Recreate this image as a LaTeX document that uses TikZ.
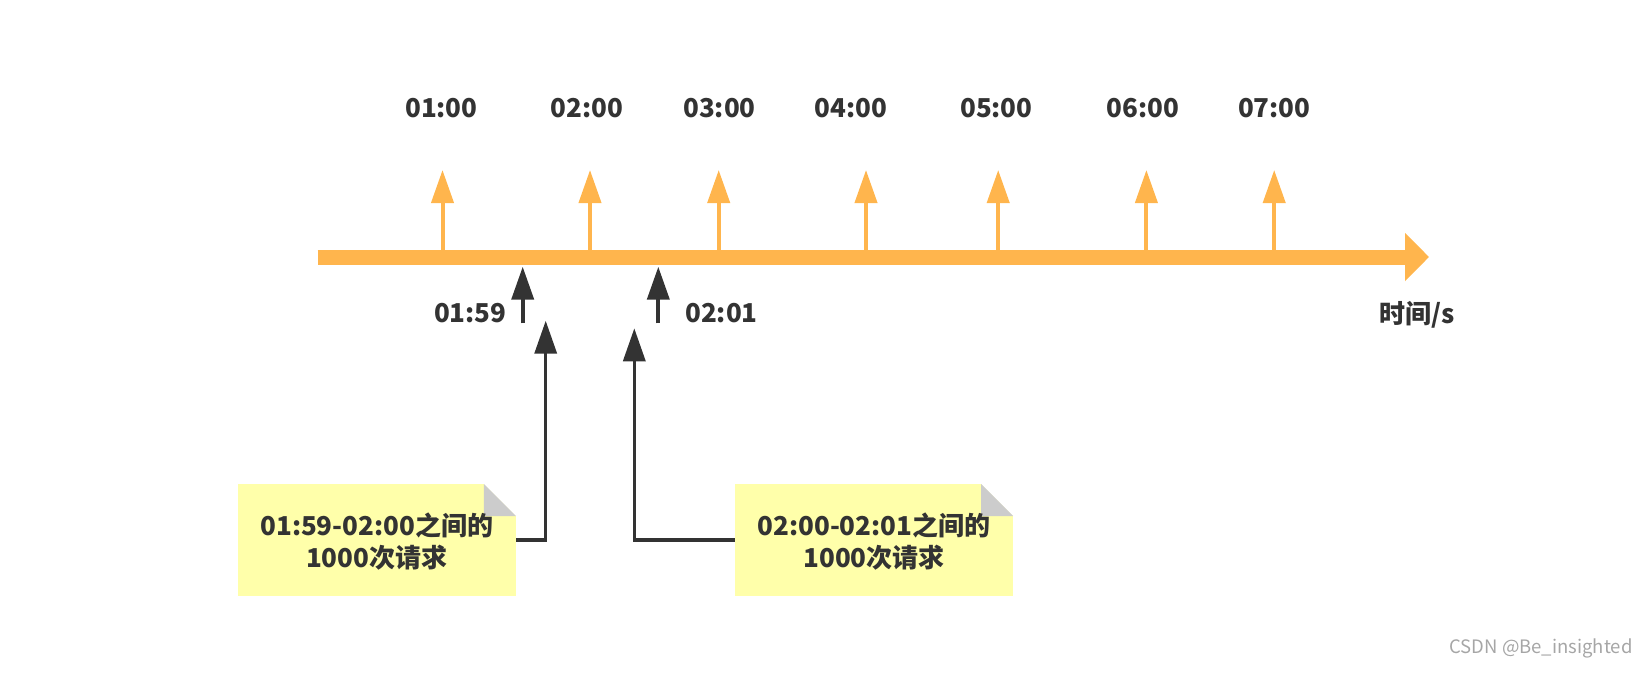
\documentclass[tikz,border=0pt]{standalone}
\usepackage{fontspec}
\setmainfont{Noto Sans CJK SC}
\usetikzlibrary{arrows.meta, positioning}
\definecolor{axisorange}{HTML}{FFB54D}
\definecolor{inkgray}{HTML}{333333}
\definecolor{notefill}{HTML}{FFFFAA}
\definecolor{foldgray}{HTML}{CCCCCC}
\definecolor{markgray}{HTML}{A6A6A6}
\tikzset{
    base/.style = {
        text=inkgray, inner sep=0pt, align=center,
        font=\bfseries\fontsize{26}{32}\selectfont
    },
    % Timeline
    axisline/.style = {draw=axisorange, line width=15pt, -{Triangle[length=24pt, width=47pt]}},
    hour/.style     = {draw=axisorange, line width=4pt, -{Triangle[length=33pt, width=22pt]}},
    edgearrow/.style= {draw=inkgray, line width=4pt, -{Triangle[length=33pt, width=22pt]}},
    % Notes and links
    link/.style = {draw=inkgray, line width=3.5pt, -{Triangle[length=33pt, width=22pt]}},
    note/.style = {base, rectangle, fill=notefill, minimum width=278pt, minimum height=112pt,
        text depth=-6pt,
        path picture={
            \fill[white] ([xshift=-32pt]path picture bounding box.north east) -- (path picture bounding box.north east)
                -- ([yshift=-32pt]path picture bounding box.north east) -- cycle;
            \fill[foldgray] ([xshift=-32pt]path picture bounding box.north east) -- ([xshift=-32pt, yshift=-32pt]path picture bounding box.north east)
                -- ([yshift=-32pt]path picture bounding box.north east) -- cycle;
        }},
    watermark/.style = {text=markgray, inner sep=0pt, font=\fontsize{18.5}{20}\selectfont}
}

\begin{document}
\begin{tikzpicture}[x=1pt, y=-1pt]
    \useasboundingbox (0,0) rectangle (1648,678);

    % Axis
    \coordinate (axisstart) at (317.7,257);
    \coordinate (axisend) at (1429,257);

    % Hour marks (tips)
    \coordinate (h1) at (442.5,170);
    \coordinate (h2) at (590,170);
    \coordinate (h3) at (718.7,170);
    \coordinate (h4) at (866,170);
    \coordinate (h5) at (998.2,170);
    \coordinate (h6) at (1146.4,170);
    \coordinate (h7) at (1274.2,170);

    \draw [hour] (h1 |- axisstart) -- (h1);
    \draw [hour] (h2 |- axisstart) -- (h2);
    \draw [hour] (h3 |- axisstart) -- (h3);
    \draw [hour] (h4 |- axisstart) -- (h4);
    \draw [hour] (h5 |- axisstart) -- (h5);
    \draw [hour] (h6 |- axisstart) -- (h6);
    \draw [hour] (h7 |- axisstart) -- (h7);

    \draw [axisline] (axisstart) -- (axisend);

    % Hour labels (Top Row)
    \node (l1) [base] at (441.4,108) {01:00};
    \node (l2) [base] at (586.6,108) {02:00};
    \node (l3) [base] at (719.5,108) {03:00};
    \node (l4) [base] at (851,108) {04:00};
    \node (l5) [base] at (996.4,108) {05:00};
    \node (l6) [base] at (1142.9,108) {06:00};
    \node (l7) [base] at (1274.3,108) {07:00};

    \node (unit) [base] at (1417.5,315) {时间/s};

    % Window edges below the axis
    \coordinate (e1) at (522.7,266.7);
    \coordinate (e1base) at (522.7,323.3);
    \coordinate (e2) at (658.3,266.7);
    \coordinate (e2base) at (658.3,323.3);
    \draw [edgearrow] (e1base) -- (e1);
    \draw [edgearrow] (e2base) -- (e2);
    \node (edge1) [base, anchor=east] at (506.7,313) {01:59};
    \node (edge2) [base, anchor=west] at (685,313) {02:01};

    % Request notes
    \node (note1) [note] at (376.8,540) {01:59-02:00之间的\\1000次请求};
    \node (note2) [note] at (874,540) {02:00-02:01之间的\\1000次请求};

    % --- Connections ---
    \coordinate (req1) at (545.7,320.7);
    \coordinate (req2) at (634.3,328.3);
    \draw [link] (note1.east) -| (req1);
    \draw [link] (note2.west) -| (req2);

    \node (mark) [watermark] at (1541,648) {CSDN @Be\_insighted};

\end{tikzpicture}
\end{document}
